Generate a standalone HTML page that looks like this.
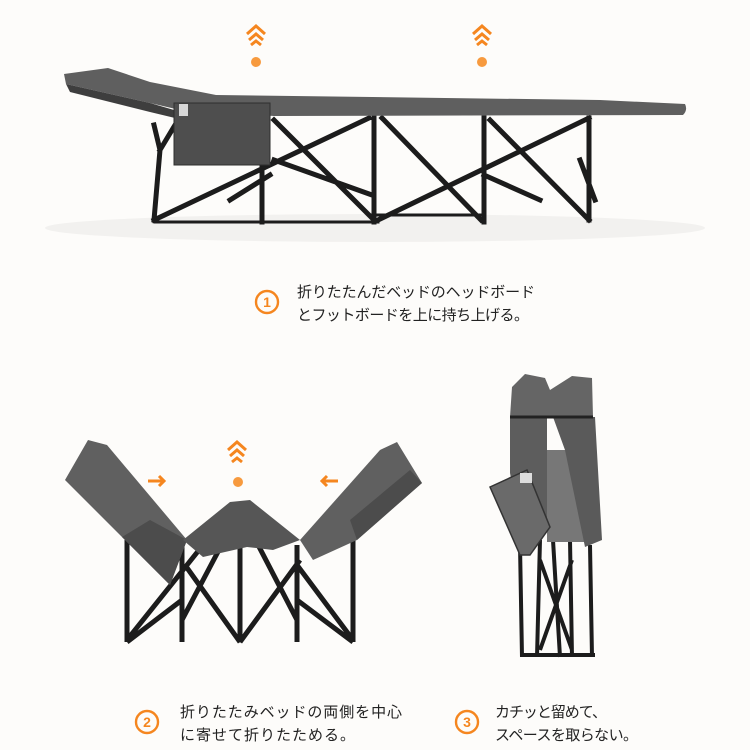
<!DOCTYPE html>
<html><head><meta charset="utf-8"><style>
html,body{margin:0;padding:0;background:#fdfcfa;}
svg{display:block}
text{font-family:"Liberation Sans","Noto Sans CJK JP",sans-serif;fill:#222}
</style></head><body>
<svg width="750" height="750" viewBox="0 0 750 750" xmlns="http://www.w3.org/2000/svg">
<rect width="750" height="750" fill="#fdfcfa"/>
<ellipse cx="375" cy="228" rx="330" ry="14" fill="#f2f1ef"/>
<!-- chevrons -->
<g fill="none" stroke="#f5861f" stroke-width="3">
<path d="M247 34 L256 26 L265 34 M249 40 L256 34 L263 40 M251 45 L256 41 L261 45"/>
<path d="M473 34 L482 26 L491 34 M475 40 L482 34 L489 40 M477 45 L482 41 L487 45"/>
<path d="M228 450 L237 442 L246 450 M230 456 L237 450 L244 456 M232 462 L237 458 L242 462"/>
<path d="M148 481 L164 481 M159 476 L164 481 L159 486"/>
<path d="M338 481 L322 481 M327 476 L322 481 L327 486"/>
</g>
<g fill="#f79a3e"><circle cx="256" cy="62" r="5"/><circle cx="482" cy="62" r="5"/><circle cx="238" cy="482" r="5"/></g>

<!-- top cot frame -->
<g stroke="#1c1c1c" stroke-width="5" fill="none" stroke-linecap="square">
<path d="M154 220 L369 118 M274 120 L374 220 M382 118 L481 220 M378 220 L589 118 M490 120 L589 220 M262 118 L262 222 M374 118 L374 222 M484 118 L484 222 M589 118 L589 220 M154 220 L160 150 L154 125 M160 150 L175 125 M274 160 L372 195 M270 175 L230 200 M484 175 L540 200 M580 160 L595 200"/>
<path d="M155 222 L378 222" stroke-width="3"/>
<path d="M370 215 L485 215" stroke-width="3"/>
</g>
<path d="M64 74 L108 68 L150 82 L216 95 L600 100 L685 104 Q688 110 683 115 L274 116 L180 110 L150 103 L66 84 Z" fill="#5f5f5f"/>
<path d="M66 84 L150 103 L174 110 L175 118 L150 112 L70 92 Z" fill="#3e3e3e"/>
<rect x="174" y="103" width="96" height="62" fill="#4e4e4e" stroke="#2f2f2f"/>
<rect x="179" y="104" width="9" height="12" fill="#d8d8d8"/>

<!-- bottom-left folding cot legs -->
<g stroke="#1c1c1c" stroke-width="5" fill="none">
<path d="M127 642 L127 540 M182 642 L182 545 M240 642 L240 502 M297 642 L297 545 M353 642 L353 520 M127 640 L203 545 M185 565 L240 642 M240 642 L300 560 M297 565 L353 640 M182 620 L240 510 M297 620 L240 510 M127 642 L182 600 M353 642 L297 600"/>
</g>
<path d="M65 480 L88 440 L107 445 L187 540 L170 585 L122 537 Z" fill="#606060"/>
<path d="M122 537 L170 585 L187 540 L150 520 Z" fill="#4c4c4c"/>
<path d="M183 540 L230 502 L250 500 L300 540 L273 550 L247 547 L203 557 Z" fill="#565656"/>
<path d="M300 540 L380 450 L397 442 L422 483 L357 540 L313 560 Z" fill="#606060"/>
<path d="M357 540 L422 483 L410 470 L350 520 Z" fill="#4c4c4c"/>

<!-- right folded bundle -->
<g stroke="#1c1c1c" stroke-width="4" fill="none">
<path d="M520 545 L522 657 M540 540 L537 657 M553 540 L560 657 M570 540 L572 657 M590 545 L592 657 M540 560 L572 650 M572 560 L540 650 M520 655 L595 655"/>
</g>
<rect x="547" y="450" width="40" height="92" fill="#777"/>
<path d="M512 387 L525 374 L545 378 L550 390 L572 376 L592 378 L593 417 L510 417 Z" fill="#656565"/>
<path d="M510 417 L547 417 L547 520 L520 525 L510 473 Z" fill="#5d5d5d"/>
<path d="M553 417 L595 417 L602 540 L585 547 L565 450 Z" fill="#5a5a5a"/>
<path d="M510 417 L593 417" stroke="#222" stroke-width="3"/>
<path d="M490 487 L527 470 L550 527 L530 555 L520 555 Z" fill="#6a6a6a" stroke="#333" stroke-width="1.5"/>
<rect x="520" y="473" width="12" height="10" fill="#ddd"/>

<!-- text -->
<g fill="none" stroke="#f5861f" stroke-width="2.4">
<circle cx="267" cy="302" r="11"/><circle cx="147" cy="722" r="11"/><circle cx="467" cy="722" r="11"/>
</g>
<g font-size="14" font-weight="bold" text-anchor="middle" style="fill:#f5861f">
<text x="267" y="307" style="fill:#f5861f">1</text>
<text x="147" y="727" style="fill:#f5861f">2</text>
<text x="467" y="727" style="fill:#f5861f">3</text>
</g>
<g font-size="15">
<text x="297" y="297" textLength="238">折りたたんだベッドのヘッドボード</text>
<text x="297" y="320" textLength="232">とフットボードを上に持ち上げる。</text>
<text x="180" y="717" textLength="222">折りたたみベッドの両側を中心</text>
<text x="180" y="740" textLength="175">に寄せて折りたためる。</text>
<text x="495" y="717" textLength="112">カチッと留めて、</text>
<text x="495" y="740" textLength="143">スペースを取らない。</text>
</g>
</svg>
</body></html>
